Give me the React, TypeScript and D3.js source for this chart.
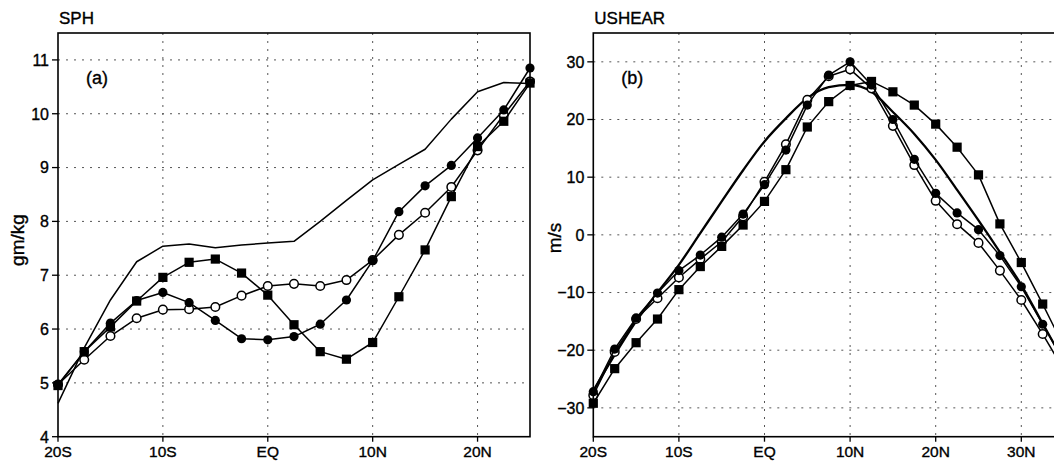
import * as d3 from 'd3'

// latitudes (2.5 deg steps), negative = S
const LAT_A = [-20, -17.5, -15, -12.5, -10, -7.5, -5, -2.5, 0, 2.5, 5, 7.5, 10, 12.5, 15, 17.5, 20, 22.5, 25]
const LAT_B = [-20, -17.5, -15, -12.5, -10, -7.5, -5, -2.5, 0, 2.5, 5, 7.5, 10, 12.5, 15, 17.5, 20, 22.5, 25, 27.5, 30, 32.5, 35]

// (a) SPH  gm/kg
const SPH_PLAIN = [4.62, 5.65, 6.54, 7.25, 7.54, 7.58, 7.51, 7.56, 7.6, 7.63, 8.0, 8.39, 8.77, 9.06, 9.34, 9.9, 10.41, 10.58, 10.56]
const SPH_FILLED = [4.97, 5.58, 6.11, 6.53, 6.68, 6.49, 6.16, 5.82, 5.8, 5.86, 6.09, 6.54, 7.27, 8.18, 8.66, 9.04, 9.55, 10.07, 10.85]
const SPH_OPEN = [4.97, 5.43, 5.87, 6.2, 6.36, 6.37, 6.41, 6.62, 6.8, 6.84, 6.8, 6.91, 7.28, 7.75, 8.16, 8.64, 9.32, 9.98, 10.6]
const SPH_SQUARE = [4.95, 5.58, 6.04, 6.52, 6.96, 7.24, 7.3, 7.04, 6.63, 6.08, 5.58, 5.44, 5.75, 6.6, 7.47, 8.46, 9.39, 9.86, 10.57]

// (b) USHEAR  m/s
const USH_PLAIN = [-27.0, -20.8, -15.0, -10.0, -5.2, 0.3, 5.8, 11.2, 16.2, 20.2, 23.7, 25.6, 26.0, 24.8, 21.3, 17.5, 13.0, 7.8, 2.5, -3.0, -8.7, -15.4, -22.0]
const USH_FILLED = [-27.2, -19.8, -14.4, -10.1, -6.2, -3.5, -0.4, 3.6, 8.7, 14.7, 22.5, 27.7, 30.0, 26.0, 20.0, 13.1, 7.2, 3.8, 0.9, -3.6, -9.0, -15.5, -22.0]
const USH_OPEN = [-27.8, -20.3, -14.6, -11.0, -7.4, -4.2, -1.2, 3.2, 9.2, 15.7, 23.4, 27.5, 28.7, 25.4, 18.9, 12.1, 5.9, 1.85, -1.4, -6.2, -11.3, -17.2, -23.5]
const USH_SQUARE = [-29.2, -23.2, -18.7, -14.6, -9.5, -5.5, -2.0, 1.7, 5.8, 11.3, 18.7, 23.1, 25.9, 26.6, 24.8, 22.5, 19.2, 15.2, 10.4, 1.9, -4.8, -12.0, -19.5]

const X_TICKS_A = [-20, -10, 0, 10, 20]
const X_TICKS_B = [-20, -10, 0, 10, 20, 30]
const Y_TICKS_A = [4, 5, 6, 7, 8, 9, 10, 11]
const Y_TICKS_B = [-30, -20, -10, 0, 10, 20, 30]

const FONT = '"Liberation Sans", Arial, Helvetica, sans-serif'

function latLabel(v: number) {
  if (v === 0) return 'EQ'
  return `${Math.abs(v)}${v < 0 ? 'S' : 'N'}`
}

type Series = { vals: number[]; kind: 'plain' | 'filled' | 'open' | 'square'; width?: number; smooth?: boolean }

function Panel(props: {
  title: string; tag: string; ylabel: string
  lats: number[]; series: Series[]
  xDomain: [number, number]; xRange: [number, number]
  yDomain: [number, number]
  xTicks: number[]; yTicks: number[]
  ylabelX: number; ylabelY: number
}) {
  const top = 33, bottom = 436.7
  const x = d3.scaleLinear().domain(props.xDomain).range(props.xRange)
  const y = d3.scaleLinear().domain(props.yDomain).range([bottom, top])
  const [x0, x1] = props.xRange
  const fmt = (v: number) => (v < 0 ? '\u2212' + Math.abs(v) : String(v))
  // GrADS-ish stroked lettering
  const txt = { fontFamily: FONT, fill: '#000', stroke: '#000', strokeWidth: 0.35 }

  return (
    <g>
      {/* grid */}
      {props.xTicks.filter(t => t !== props.xDomain[0]).map(t => (
        <line key={'gx' + t} x1={x(t)} x2={x(t)} y1={top} y2={bottom}
          stroke="#555" strokeWidth={1} strokeDasharray="2,6" />
      ))}
      {props.yTicks.filter(t => t !== props.yDomain[0]).map(t => (
        <line key={'gy' + t} x1={x0} x2={x1} y1={y(t)} y2={y(t)}
          stroke="#555" strokeWidth={1} strokeDasharray="2,6" />
      ))}

      {/* series */}
      {props.series.map((s, si) => {
        const line = d3.line<number>()
          .x((d, i) => x(props.lats[i]))
          .y(d => y(d))
          .curve(s.smooth ? d3.curveMonotoneX : d3.curveLinear)
        return (
          <g key={si}>
            <path d={line(s.vals) || ''} fill="none" stroke="#000" strokeWidth={s.width ?? 1.5} strokeLinejoin="round" />
            {s.kind === 'filled' && s.vals.map((v, i) => (
              <circle key={i} cx={x(props.lats[i])} cy={y(v)} r={4.6} fill="#000" />
            ))}
            {s.kind === 'open' && s.vals.map((v, i) => (
              <circle key={i} cx={x(props.lats[i])} cy={y(v)} r={4.3} fill="#fff" stroke="#000" strokeWidth={1.5} />
            ))}
            {s.kind === 'square' && s.vals.map((v, i) => (
              <rect key={i} x={x(props.lats[i]) - 4.6} y={y(v) - 4.6} width={9.2} height={9.2} fill="#000" />
            ))}
          </g>
        )
      })}

      {/* frame */}
      <rect x={x0} y={top} width={x1 - x0} height={bottom - top} fill="none" stroke="#000" strokeWidth={1.6} />

      {/* axes ticks */}
      {props.yTicks.map(t => (
        <g key={'ty' + t}>
          <line x1={x0 - 6} x2={x0} y1={y(t)} y2={y(t)} stroke="#000" strokeWidth={1.3} />
          <text x={x0 - 9} y={y(t) + 5.8} textAnchor="end" fontSize={16} {...txt}>{fmt(t)}</text>
        </g>
      ))}
      {props.xTicks.map(t => (
        <g key={'tx' + t}>
          <line x1={x(t)} x2={x(t)} y1={bottom} y2={bottom + 5} stroke="#000" strokeWidth={1.3} />
          <text x={x(t)} y={bottom + 20} textAnchor="middle" fontSize={15.5} {...txt}>{latLabel(t)}</text>
        </g>
      ))}

      <text x={x0 + 1} y={24} fontSize={17} {...txt}>{props.title}</text>
      <text x={x0 + 28} y={84} fontSize={18} {...txt}>{props.tag}</text>
      <text transform={`translate(${props.ylabelX},${props.ylabelY}) rotate(-90)`} textAnchor="middle"
        fontSize={19} {...txt}>{props.ylabel}</text>
    </g>
  )
}

export default function App() {
  return (
    <svg width={1054} height={463} style={{ position: 'absolute', left: 0, top: 0, background: '#fff' }}>
      <rect width={1054} height={463} fill="#fff" />
      <Panel
        title="SPH" tag="(a)" ylabel="gm/kg"
        lats={LAT_A}
        series={[
          { vals: SPH_PLAIN, kind: 'plain' },
          { vals: SPH_OPEN, kind: 'open' },
          { vals: SPH_FILLED, kind: 'filled' },
          { vals: SPH_SQUARE, kind: 'square' },
        ]}
        xDomain={[-20, 25]} xRange={[58, 530]}
        yDomain={[4, 11.5]}
        xTicks={X_TICKS_A} yTicks={Y_TICKS_A}
        ylabelX={24} ylabelY={240}
      />
      <Panel
        title="USHEAR" tag="(b)" ylabel="m/s"
        lats={LAT_B}
        series={[
          { vals: USH_PLAIN, kind: 'plain', width: 2.3, smooth: true },
          { vals: USH_OPEN, kind: 'open' },
          { vals: USH_FILLED, kind: 'filled' },
          { vals: USH_SQUARE, kind: 'square' },
        ]}
        xDomain={[-20, 40]} xRange={[593.3, 1106.9]}
        yDomain={[-35, 35]}
        xTicks={X_TICKS_B} yTicks={Y_TICKS_B}
        ylabelX={561} ylabelY={238}
      />
    </svg>
  )
}
